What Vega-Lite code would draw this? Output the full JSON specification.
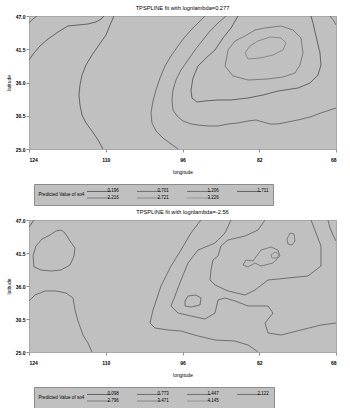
{
  "$schema": "https://vega.github.io/schema/vega-lite/v6.json",
  "background": "white",
  "padding": {"top": 4, "left": 5, "right": 6, "bottom": 2},
  "spacing": 2,
  "config": {
    "font": "Liberation Sans",
    "view": {"fill": "#c0c0c0", "stroke": "#a8a8a8", "strokeWidth": 1},
    "title": {"fontSize": 5.7, "fontWeight": "normal", "color": "#000000", "offset": 3},
    "axis": {"grid": false, "domain": false, "labelFontSize": 5, "labelColor": "#000000", "labelFontWeight": "bold", "titleFontSize": 4.9, "titleFontWeight": "normal", "titleColor": "#000000", "tickColor": "#909090", "tickSize": 3},
    "axisX": {"labelPadding": 5, "titlePadding": 7},
    "axisY": {"labelPadding": 1, "titlePadding": 4},
    "legend": {"fillColor": "#c0c0c0", "strokeColor": "#8c8c8c", "padding": 4.5, "titleOrient": "left", "titleFontSize": 4.6, "titleFontWeight": "normal", "titleColor": "#000000", "titlePadding": 12, "labelFontSize": 4.5, "labelColor": "#000000", "symbolType": "M-6,0H6", "symbolSize": 16, "symbolStrokeWidth": 0.8, "symbolFillColor": "transparent", "columnPadding": 15, "rowPadding": 1, "labelOffset": 6, "labelLimit": 0}
  },
  "datasets": {
    "top": [
      {"g":"A","v":"0.196","i":0,"lon":124.00,"lat":39.72},
      {"g":"A","v":"0.196","i":1,"lon":123.09,"lat":40.88},
      {"g":"A","v":"0.196","i":2,"lon":121.99,"lat":42.04},
      {"g":"A","v":"0.196","i":3,"lon":120.53,"lat":43.20},
      {"g":"A","v":"0.196","i":4,"lon":118.71,"lat":44.35},
      {"g":"A","v":"0.196","i":5,"lon":116.89,"lat":45.35},
      {"g":"A","v":"0.196","i":6,"lon":115.06,"lat":45.51},
      {"g":"A","v":"0.196","i":7,"lon":113.24,"lat":45.68},
      {"g":"A","v":"0.196","i":8,"lon":111.78,"lat":46.01},
      {"g":"A","v":"0.196","i":9,"lon":110.87,"lat":46.50},
      {"g":"A","v":"0.196","i":10,"lon":110.32,"lat":47.00},
      {"g":"A2","v":"0.701","i":0,"lon":124.00,"lat":45.84},
      {"g":"A2","v":"0.701","i":1,"lon":123.27,"lat":46.50},
      {"g":"A2","v":"0.701","i":2,"lon":122.54,"lat":47.00},
      {"g":"B","v":"0.196","i":0,"lon":108.50,"lat":47.00},
      {"g":"B","v":"0.196","i":1,"lon":109.22,"lat":45.51},
      {"g":"B","v":"0.196","i":2,"lon":109.95,"lat":43.86},
      {"g":"B","v":"0.196","i":3,"lon":111.23,"lat":42.20},
      {"g":"B","v":"0.196","i":4,"lon":112.51,"lat":40.55},
      {"g":"B","v":"0.196","i":5,"lon":113.60,"lat":38.89},
      {"g":"B","v":"0.196","i":6,"lon":114.33,"lat":37.24},
      {"g":"B","v":"0.196","i":7,"lon":114.70,"lat":35.59},
      {"g":"B","v":"0.196","i":8,"lon":114.88,"lat":33.93},
      {"g":"B","v":"0.196","i":9,"lon":114.70,"lat":32.28},
      {"g":"B","v":"0.196","i":10,"lon":114.33,"lat":30.62},
      {"g":"B","v":"0.196","i":11,"lon":113.60,"lat":29.30},
      {"g":"B","v":"0.196","i":12,"lon":112.51,"lat":27.98},
      {"g":"B","v":"0.196","i":13,"lon":111.41,"lat":26.49},
      {"g":"B","v":"0.196","i":14,"lon":110.50,"lat":25.00},
      {"g":"C","v":"0.701","i":0,"lon":91.90,"lat":47.00},
      {"g":"C","v":"0.701","i":1,"lon":93.17,"lat":45.84},
      {"g":"C","v":"0.701","i":2,"lon":94.45,"lat":44.68},
      {"g":"C","v":"0.701","i":3,"lon":95.73,"lat":43.36},
      {"g":"C","v":"0.701","i":4,"lon":96.82,"lat":42.04},
      {"g":"C","v":"0.701","i":5,"lon":98.10,"lat":40.38},
      {"g":"C","v":"0.701","i":6,"lon":99.19,"lat":38.73},
      {"g":"C","v":"0.701","i":7,"lon":100.10,"lat":36.74},
      {"g":"C","v":"0.701","i":8,"lon":100.83,"lat":34.76},
      {"g":"C","v":"0.701","i":9,"lon":101.38,"lat":32.94},
      {"g":"C","v":"0.701","i":10,"lon":101.75,"lat":30.96},
      {"g":"C","v":"0.701","i":11,"lon":101.56,"lat":29.30},
      {"g":"C","v":"0.701","i":12,"lon":100.83,"lat":27.98},
      {"g":"C","v":"0.701","i":13,"lon":99.56,"lat":26.82},
      {"g":"C","v":"0.701","i":14,"lon":98.10,"lat":25.83},
      {"g":"C","v":"0.701","i":15,"lon":96.82,"lat":25.00},
      {"g":"D","v":"1.206","i":0,"lon":88.07,"lat":47.00},
      {"g":"D","v":"1.206","i":1,"lon":89.52,"lat":45.84},
      {"g":"D","v":"1.206","i":2,"lon":90.98,"lat":44.52},
      {"g":"D","v":"1.206","i":3,"lon":92.44,"lat":42.86},
      {"g":"D","v":"1.206","i":4,"lon":93.72,"lat":41.38},
      {"g":"D","v":"1.206","i":5,"lon":95.00,"lat":39.72},
      {"g":"D","v":"1.206","i":6,"lon":96.27,"lat":38.07},
      {"g":"D","v":"1.206","i":7,"lon":97.19,"lat":36.41},
      {"g":"D","v":"1.206","i":8,"lon":97.73,"lat":34.76},
      {"g":"D","v":"1.206","i":9,"lon":97.92,"lat":33.11},
      {"g":"D","v":"1.206","i":10,"lon":97.73,"lat":31.45},
      {"g":"D","v":"1.206","i":11,"lon":97.00,"lat":30.46},
      {"g":"D","v":"1.206","i":12,"lon":95.91,"lat":29.63},
      {"g":"D","v":"1.206","i":13,"lon":94.45,"lat":29.14},
      {"g":"D","v":"1.206","i":14,"lon":93.17,"lat":28.97},
      {"g":"D","v":"1.206","i":15,"lon":91.35,"lat":28.80},
      {"g":"D","v":"1.206","i":16,"lon":89.52,"lat":28.80},
      {"g":"D","v":"1.206","i":17,"lon":87.70,"lat":29.14},
      {"g":"D","v":"1.206","i":18,"lon":85.88,"lat":29.30},
      {"g":"D","v":"1.206","i":19,"lon":84.05,"lat":29.63},
      {"g":"D","v":"1.206","i":20,"lon":82.59,"lat":29.80},
      {"g":"D","v":"1.206","i":21,"lon":81.32,"lat":29.47},
      {"g":"D","v":"1.206","i":22,"lon":80.04,"lat":29.14},
      {"g":"D","v":"1.206","i":23,"lon":78.58,"lat":29.14},
      {"g":"D","v":"1.206","i":24,"lon":76.76,"lat":29.47},
      {"g":"D","v":"1.206","i":25,"lon":74.93,"lat":29.80},
      {"g":"D","v":"1.206","i":26,"lon":72.74,"lat":30.29},
      {"g":"D","v":"1.206","i":27,"lon":70.74,"lat":30.96},
      {"g":"D","v":"1.206","i":28,"lon":68.00,"lat":31.78},
      {"g":"T3","v":"1.711","i":0,"lon":85.88,"lat":47.00},
      {"g":"T3","v":"1.711","i":1,"lon":87.15,"lat":45.02},
      {"g":"T3","v":"1.711","i":2,"lon":88.61,"lat":43.36},
      {"g":"T3","v":"1.711","i":3,"lon":90.07,"lat":41.38},
      {"g":"T3","v":"1.711","i":4,"lon":91.71,"lat":40.05},
      {"g":"T3","v":"1.711","i":5,"lon":93.17,"lat":38.73},
      {"g":"T3","v":"1.711","i":6,"lon":94.08,"lat":36.74},
      {"g":"T3","v":"1.711","i":7,"lon":94.45,"lat":34.76},
      {"g":"T3","v":"1.711","i":8,"lon":94.27,"lat":33.44},
      {"g":"T3","v":"1.711","i":9,"lon":93.36,"lat":32.77},
      {"g":"T3","v":"1.711","i":10,"lon":91.90,"lat":32.94},
      {"g":"T3","v":"1.711","i":11,"lon":89.52,"lat":33.11},
      {"g":"T3","v":"1.711","i":12,"lon":87.15,"lat":33.11},
      {"g":"T3","v":"1.711","i":13,"lon":84.05,"lat":33.44},
      {"g":"T3","v":"1.711","i":14,"lon":81.32,"lat":33.93},
      {"g":"T3","v":"1.711","i":15,"lon":78.58,"lat":34.59},
      {"g":"T3","v":"1.711","i":16,"lon":74.93,"lat":35.09},
      {"g":"T3","v":"1.711","i":17,"lon":72.74,"lat":35.92},
      {"g":"T3","v":"1.711","i":18,"lon":71.28,"lat":37.24},
      {"g":"T3","v":"1.711","i":19,"lon":70.74,"lat":38.89},
      {"g":"T3","v":"1.711","i":20,"lon":70.92,"lat":40.88},
      {"g":"T3","v":"1.711","i":21,"lon":71.65,"lat":43.69},
      {"g":"T3","v":"1.711","i":22,"lon":72.20,"lat":45.84},
      {"g":"T3","v":"1.711","i":23,"lon":72.56,"lat":47.00},
      {"g":"E","v":"2.216","i":0,"lon":88.25,"lat":38.73},
      {"g":"E","v":"2.216","i":1,"lon":87.70,"lat":41.38},
      {"g":"E","v":"2.216","i":2,"lon":86.42,"lat":42.86},
      {"g":"E","v":"2.216","i":3,"lon":84.60,"lat":43.69},
      {"g":"E","v":"2.216","i":4,"lon":82.77,"lat":44.68},
      {"g":"E","v":"2.216","i":5,"lon":80.95,"lat":45.02},
      {"g":"E","v":"2.216","i":6,"lon":78.03,"lat":45.35},
      {"g":"E","v":"2.216","i":7,"lon":75.84,"lat":44.68},
      {"g":"E","v":"2.216","i":8,"lon":74.38,"lat":43.36},
      {"g":"E","v":"2.216","i":9,"lon":74.02,"lat":40.88},
      {"g":"E","v":"2.216","i":10,"lon":74.57,"lat":38.89},
      {"g":"E","v":"2.216","i":11,"lon":75.48,"lat":37.57},
      {"g":"E","v":"2.216","i":12,"lon":77.67,"lat":36.91},
      {"g":"E","v":"2.216","i":13,"lon":80.40,"lat":36.58},
      {"g":"E","v":"2.216","i":14,"lon":84.05,"lat":36.41},
      {"g":"E","v":"2.216","i":15,"lon":86.79,"lat":37.08},
      {"g":"E","v":"2.216","i":16,"lon":88.25,"lat":38.73},
      {"g":"F","v":"2.721","i":0,"lon":84.60,"lat":40.88},
      {"g":"F","v":"2.721","i":1,"lon":83.69,"lat":42.04},
      {"g":"F","v":"2.721","i":2,"lon":82.23,"lat":42.86},
      {"g":"F","v":"2.721","i":3,"lon":80.04,"lat":43.53},
      {"g":"F","v":"2.721","i":4,"lon":78.03,"lat":43.36},
      {"g":"F","v":"2.721","i":5,"lon":77.12,"lat":42.53},
      {"g":"F","v":"2.721","i":6,"lon":77.67,"lat":41.38},
      {"g":"F","v":"2.721","i":7,"lon":79.49,"lat":40.55},
      {"g":"F","v":"2.721","i":8,"lon":81.86,"lat":40.05},
      {"g":"F","v":"2.721","i":9,"lon":84.05,"lat":39.89},
      {"g":"F","v":"2.721","i":10,"lon":84.60,"lat":40.88},
      {"g":"TR","v":"1.206","i":0,"lon":69.09,"lat":47.00},
      {"g":"TR","v":"1.206","i":1,"lon":68.36,"lat":46.17},
      {"g":"TR","v":"1.206","i":2,"lon":68.00,"lat":45.51}
    ],
    "bottom": [
      {"g":"NWL","v":"0.773","i":0,"lon":123.27,"lat":41.00},
      {"g":"NWL","v":"0.773","i":1,"lon":122.72,"lat":42.67},
      {"g":"NWL","v":"0.773","i":2,"lon":121.63,"lat":43.83},
      {"g":"NWL","v":"0.773","i":3,"lon":120.17,"lat":44.50},
      {"g":"NWL","v":"0.773","i":4,"lon":119.08,"lat":45.17},
      {"g":"NWL","v":"0.773","i":5,"lon":118.16,"lat":45.33},
      {"g":"NWL","v":"0.773","i":6,"lon":117.43,"lat":44.83},
      {"g":"NWL","v":"0.773","i":7,"lon":116.52,"lat":43.50},
      {"g":"NWL","v":"0.773","i":8,"lon":115.61,"lat":42.33},
      {"g":"NWL","v":"0.773","i":9,"lon":115.79,"lat":41.00},
      {"g":"NWL","v":"0.773","i":10,"lon":116.52,"lat":39.50},
      {"g":"NWL","v":"0.773","i":11,"lon":118.16,"lat":38.67},
      {"g":"NWL","v":"0.773","i":12,"lon":119.99,"lat":38.50},
      {"g":"NWL","v":"0.773","i":13,"lon":121.81,"lat":38.67},
      {"g":"NWL","v":"0.773","i":14,"lon":123.09,"lat":39.17},
      {"g":"NWL","v":"0.773","i":15,"lon":123.27,"lat":41.00},
      {"g":"NWC","v":"0.098","i":0,"lon":124.00,"lat":45.83},
      {"g":"NWC","v":"0.098","i":1,"lon":123.09,"lat":47.00},
      {"g":"SW","v":"0.773","i":0,"lon":124.00,"lat":33.50},
      {"g":"SW","v":"0.773","i":1,"lon":122.91,"lat":34.50},
      {"g":"SW","v":"0.773","i":2,"lon":121.08,"lat":35.17},
      {"g":"SW","v":"0.773","i":3,"lon":119.08,"lat":35.17},
      {"g":"SW","v":"0.773","i":4,"lon":117.25,"lat":34.83},
      {"g":"SW","v":"0.773","i":5,"lon":115.97,"lat":34.00},
      {"g":"SW","v":"0.773","i":6,"lon":115.61,"lat":32.00},
      {"g":"SW","v":"0.773","i":7,"lon":115.06,"lat":30.17},
      {"g":"SW","v":"0.773","i":8,"lon":114.15,"lat":27.83},
      {"g":"SW","v":"0.773","i":9,"lon":113.24,"lat":26.50},
      {"g":"SW","v":"0.773","i":10,"lon":112.51,"lat":25.00},
      {"g":"L1","v":"0.773","i":0,"lon":92.63,"lat":47.00},
      {"g":"L1","v":"0.773","i":1,"lon":94.45,"lat":44.83},
      {"g":"L1","v":"0.773","i":2,"lon":96.27,"lat":42.00},
      {"g":"L1","v":"0.773","i":3,"lon":98.10,"lat":39.33},
      {"g":"L1","v":"0.773","i":4,"lon":99.92,"lat":36.00},
      {"g":"L1","v":"0.773","i":5,"lon":101.38,"lat":32.00},
      {"g":"L1","v":"0.773","i":6,"lon":101.93,"lat":29.83},
      {"g":"L1","v":"0.773","i":7,"lon":101.02,"lat":29.00},
      {"g":"L1","v":"0.773","i":8,"lon":98.64,"lat":28.67},
      {"g":"L1","v":"0.773","i":9,"lon":96.27,"lat":28.50},
      {"g":"L1","v":"0.773","i":10,"lon":93.17,"lat":27.67},
      {"g":"L1","v":"0.773","i":11,"lon":90.07,"lat":27.00},
      {"g":"L1","v":"0.773","i":12,"lon":86.42,"lat":26.83},
      {"g":"L1","v":"0.773","i":13,"lon":84.05,"lat":26.17},
      {"g":"L1","v":"0.773","i":14,"lon":82.23,"lat":25.00},
      {"g":"L2","v":"1.447","i":0,"lon":87.15,"lat":47.00},
      {"g":"L2","v":"1.447","i":1,"lon":88.25,"lat":44.83},
      {"g":"L2","v":"1.447","i":2,"lon":90.07,"lat":43.17},
      {"g":"L2","v":"1.447","i":3,"lon":93.17,"lat":42.00},
      {"g":"L2","v":"1.447","i":4,"lon":95.00,"lat":39.83},
      {"g":"L2","v":"1.447","i":5,"lon":96.27,"lat":37.00},
      {"g":"L2","v":"1.447","i":6,"lon":97.37,"lat":34.33},
      {"g":"L2","v":"1.447","i":7,"lon":98.10,"lat":32.67},
      {"g":"L2","v":"1.447","i":8,"lon":96.82,"lat":31.50},
      {"g":"L2","v":"1.447","i":9,"lon":94.45,"lat":31.00},
      {"g":"L2","v":"1.447","i":10,"lon":91.90,"lat":30.50},
      {"g":"L2","v":"1.447","i":11,"lon":90.07,"lat":31.50},
      {"g":"L2","v":"1.447","i":12,"lon":89.52,"lat":33.67},
      {"g":"L2","v":"1.447","i":13,"lon":88.25,"lat":34.00},
      {"g":"L2","v":"1.447","i":14,"lon":86.42,"lat":33.50},
      {"g":"L2","v":"1.447","i":15,"lon":84.05,"lat":32.67},
      {"g":"L2","v":"1.447","i":16,"lon":80.40,"lat":32.67},
      {"g":"L2","v":"1.447","i":17,"lon":79.49,"lat":31.50},
      {"g":"L2","v":"1.447","i":18,"lon":80.95,"lat":29.83},
      {"g":"L2","v":"1.447","i":19,"lon":80.40,"lat":28.17},
      {"g":"L2","v":"1.447","i":20,"lon":78.03,"lat":27.83},
      {"g":"L2","v":"1.447","i":21,"lon":74.38,"lat":28.67},
      {"g":"L2","v":"1.447","i":22,"lon":70.74,"lat":29.50},
      {"g":"L2","v":"1.447","i":23,"lon":68.00,"lat":29.83},
      {"g":"L3","v":"2.122","i":0,"lon":80.95,"lat":47.00},
      {"g":"L3","v":"2.122","i":1,"lon":82.23,"lat":45.33},
      {"g":"L3","v":"2.122","i":2,"lon":84.60,"lat":44.33},
      {"g":"L3","v":"2.122","i":3,"lon":87.70,"lat":43.67},
      {"g":"L3","v":"2.122","i":4,"lon":88.98,"lat":42.67},
      {"g":"L3","v":"2.122","i":5,"lon":89.52,"lat":41.00},
      {"g":"L3","v":"2.122","i":6,"lon":90.44,"lat":40.33},
      {"g":"L3","v":"2.122","i":7,"lon":90.80,"lat":38.67},
      {"g":"L3","v":"2.122","i":8,"lon":90.98,"lat":37.00},
      {"g":"L3","v":"2.122","i":9,"lon":90.07,"lat":36.17},
      {"g":"L3","v":"2.122","i":10,"lon":87.70,"lat":35.17},
      {"g":"L3","v":"2.122","i":11,"lon":84.60,"lat":34.50},
      {"g":"L3","v":"2.122","i":12,"lon":82.77,"lat":35.33},
      {"g":"L3","v":"2.122","i":13,"lon":80.40,"lat":37.00},
      {"g":"L3","v":"2.122","i":14,"lon":76.76,"lat":37.33},
      {"g":"L3","v":"2.122","i":15,"lon":73.11,"lat":37.67},
      {"g":"L3","v":"2.122","i":16,"lon":70.74,"lat":39.33},
      {"g":"L3","v":"2.122","i":17,"lon":70.74,"lat":42.67},
      {"g":"L3","v":"2.122","i":18,"lon":71.65,"lat":44.83},
      {"g":"L3","v":"2.122","i":19,"lon":72.56,"lat":47.00},
      {"g":"SL","v":"2.122","i":0,"lon":95.54,"lat":33.50},
      {"g":"SL","v":"2.122","i":1,"lon":95.00,"lat":34.33},
      {"g":"SL","v":"2.122","i":2,"lon":93.54,"lat":34.50},
      {"g":"SL","v":"2.122","i":3,"lon":92.63,"lat":34.00},
      {"g":"SL","v":"2.122","i":4,"lon":92.81,"lat":32.83},
      {"g":"SL","v":"2.122","i":5,"lon":94.45,"lat":32.50},
      {"g":"SL","v":"2.122","i":6,"lon":95.54,"lat":32.67},
      {"g":"SL","v":"2.122","i":7,"lon":95.54,"lat":33.50},
      {"g":"F8","v":"2.796","i":0,"lon":84.96,"lat":39.50},
      {"g":"F8","v":"2.796","i":1,"lon":84.42,"lat":40.33},
      {"g":"F8","v":"2.796","i":2,"lon":83.14,"lat":40.17},
      {"g":"F8","v":"2.796","i":3,"lon":81.68,"lat":42.00},
      {"g":"F8","v":"2.796","i":4,"lon":79.86,"lat":42.50},
      {"g":"F8","v":"2.796","i":5,"lon":78.58,"lat":42.00},
      {"g":"F8","v":"2.796","i":6,"lon":78.22,"lat":41.00},
      {"g":"F8","v":"2.796","i":7,"lon":79.49,"lat":39.83},
      {"g":"F8","v":"2.796","i":8,"lon":81.68,"lat":39.33},
      {"g":"F8","v":"2.796","i":9,"lon":82.77,"lat":39.83},
      {"g":"F8","v":"2.796","i":10,"lon":84.05,"lat":39.17},
      {"g":"F8","v":"2.796","i":11,"lon":84.96,"lat":39.50},
      {"g":"IN","v":"3.471","i":0,"lon":79.86,"lat":41.17},
      {"g":"IN","v":"3.471","i":1,"lon":79.13,"lat":41.67},
      {"g":"IN","v":"3.471","i":2,"lon":78.40,"lat":41.33},
      {"g":"IN","v":"3.471","i":3,"lon":78.76,"lat":40.67},
      {"g":"IN","v":"3.471","i":4,"lon":79.67,"lat":40.67},
      {"g":"IN","v":"3.471","i":5,"lon":79.86,"lat":41.17},
      {"g":"NE","v":"2.796","i":0,"lon":76.94,"lat":43.83},
      {"g":"NE","v":"2.796","i":1,"lon":76.39,"lat":44.83},
      {"g":"NE","v":"2.796","i":2,"lon":75.66,"lat":44.67},
      {"g":"NE","v":"2.796","i":3,"lon":75.48,"lat":43.50},
      {"g":"NE","v":"2.796","i":4,"lon":76.03,"lat":42.83},
      {"g":"NE","v":"2.796","i":5,"lon":76.76,"lat":43.00},
      {"g":"NE","v":"2.796","i":6,"lon":76.94,"lat":43.83},
      {"g":"TR","v":"2.122","i":0,"lon":69.46,"lat":47.00},
      {"g":"TR","v":"2.122","i":1,"lon":69.09,"lat":45.67},
      {"g":"TR","v":"2.122","i":2,"lon":68.55,"lat":44.50},
      {"g":"TR","v":"2.122","i":3,"lon":68.00,"lat":43.50}
    ]
  },
  "vconcat": [
    {
      "title": "TPSPLINE fit with lognlambda=0.277",
      "width": 307,
      "height": 133,
      "data": {"name": "top"},
      "mark": {"type": "line", "strokeWidth": 0.8, "clip": true},
      "encoding": {
        "x": {"field": "lon", "type": "quantitative", "scale": {"domain": [68, 124], "reverse": true, "nice": false, "zero": false}, "axis": {"values": [124, 110, 96, 82, 68], "format": "d", "title": "longitude"}},
        "y": {"field": "lat", "type": "quantitative", "scale": {"domain": [25, 47], "nice": false, "zero": false}, "axis": {"values": [25, 30.5, 36, 41.5, 47], "format": ".1f", "title": "latitude"}},
        "color": {"field": "v", "type": "nominal", "scale": {"domain": ["0.196", "0.701", "1.206", "1.711", "2.216", "2.721", "3.226"], "range": ["#4a4a4a", "#5a5a5a", "#5a5a5a", "#4a4a4a", "#6a6a6a", "#7a7a7a", "#8a8a8a"]}, "legend": {"orient": "none", "legendX": 5, "legendY": 168, "direction": "horizontal", "columns": 4, "title": "Predicted Value of so4"}},
        "detail": {"field": "g"},
        "order": {"field": "i", "type": "quantitative"}
      }
    },
    {
      "title": "TPSPLINE fit with lognlambda=-2.56",
      "width": 307,
      "height": 132,
      "data": {"name": "bottom"},
      "mark": {"type": "line", "strokeWidth": 0.8, "clip": true},
      "encoding": {
        "x": {"field": "lon", "type": "quantitative", "scale": {"domain": [68, 124], "reverse": true, "nice": false, "zero": false}, "axis": {"values": [124, 110, 96, 82, 68], "format": "d", "title": "longitude"}},
        "y": {"field": "lat", "type": "quantitative", "scale": {"domain": [25, 47], "nice": false, "zero": false}, "axis": {"values": [25, 30.5, 36, 41.5, 47], "format": ".1f", "title": "latitude"}},
        "color": {"field": "v", "type": "nominal", "scale": {"domain": ["0.098", "0.773", "1.447", "2.122", "2.796", "3.471", "4.145"], "range": ["#4a4a4a", "#5a5a5a", "#5a5a5a", "#5a5a5a", "#6a6a6a", "#7a7a7a", "#8a8a8a"]}, "legend": {"orient": "none", "legendX": 5, "legendY": 167, "direction": "horizontal", "columns": 4, "title": "Predicted Value of so4"}},
        "detail": {"field": "g"},
        "order": {"field": "i", "type": "quantitative"}
      }
    }
  ],
  "resolve": {"scale": {"color": "independent", "x": "independent", "y": "independent"}, "legend": {"color": "independent"}}
}
